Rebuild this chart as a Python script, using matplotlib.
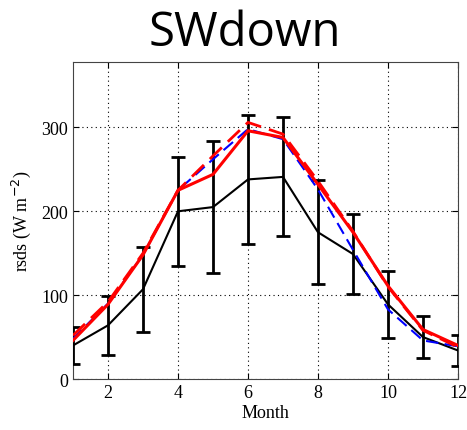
import numpy as np
import matplotlib
matplotlib.use("Agg")
import matplotlib.pyplot as plt

""" =======================  Data ========================== """

months = [1, 2, 3, 4, 5, 6, 7, 8, 9, 10, 11, 12]

# observations with spread
obs = [40, 64, 107, 200, 205, 238, 241, 175, 149, 89, 50, 34]
obs_err = [22, 35, 51, 65, 79, 77, 71, 62, 48, 40, 25, 18]

# model runs
red_solid = [46, 89, 148, 225, 244, 296, 288, 232, 175, 111, 59, 40]
red_dash = [52, 92, 150, 225, 266, 306, 292, 236, 176, 110, 58, 38]
blue_dash = [48, 90, 148, 225, 262, 298, 286, 226, 154, 83, 46, 39]

xticks = [2, 4, 6, 8, 10, 12]
yticks = [0, 100, 200, 300]

""" =======================  Plot ========================== """

serif = ["Liberation Serif", "DejaVu Serif"]

fig = plt.figure(figsize=(4.67, 4.31), dpi=100)
ax = fig.add_axes([0.1563, 0.1183, 0.8244, 0.7355])

ax.errorbar(months, obs, yerr=obs_err, fmt="none", ecolor="black",
            elinewidth=2, capsize=5, capthick=2, zorder=3, clip_on=True)
ax.plot(months, obs, color="black", lw=1.5, zorder=4)
ax.plot(months, blue_dash, color="blue", lw=1.5, ls=(0, (6, 3)), zorder=5)
ax.plot(months, red_dash, color="red", lw=2, ls=(0, (6, 3)), zorder=5)
ax.plot(months, red_solid, color="red", lw=2.2, zorder=6)

ax.set_xlim(1, 12)
ax.set_ylim(0, 378)
ax.set_xticks(xticks)
ax.set_yticks(yticks)
ax.grid(True, color="black", ls=(0, (1, 3)), lw=0.8)
ax.tick_params(direction="in", top=True, right=True, length=4, labelsize=13)
for lab in ax.get_xticklabels() + ax.get_yticklabels():
    lab.set_family(serif)
for sp in ax.spines.values():
    sp.set_color("#444444")

ax.set_xlabel("Month", family=serif, fontsize=13, labelpad=2)
ax.set_ylabel("rsds (W m$^{-2}$)", family=serif, fontsize=13, labelpad=6)

fig.text(245 / 467, 1 - 33 / 431, "SWdown", ha="center", va="center",
         fontsize=34, family=["Open Sans", "DejaVu Sans"])

fig.savefig("out.png", dpi=100)
